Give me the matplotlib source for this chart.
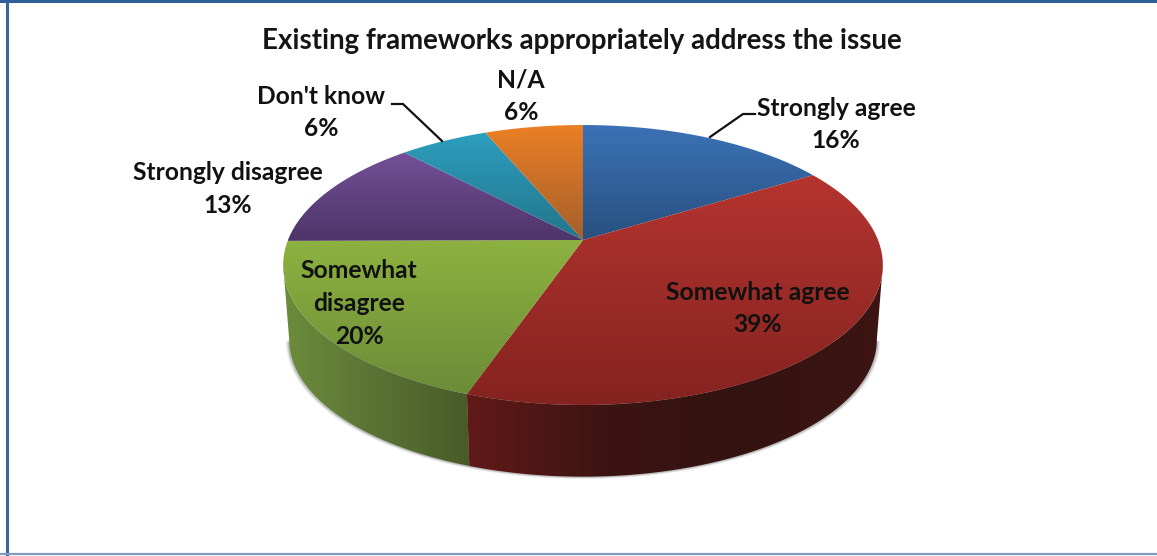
import numpy as np
from matplotlib import pyplot as plt
from matplotlib.colors import LinearSegmentedColormap, to_rgb
from matplotlib.patches import Polygon

categories = ['Strongly agree', 'Somewhat agree', 'Somewhat disagree',
              'Strongly disagree', "Don't know", 'N/A']
# slice shares as measured on the picture, the printed labels are rounded
values = [16.25, 39.05, 19.6, 13.1, 5.7, 6.3]
percent_labels = ['16%', '39%', '20%', '13%', '6%', '6%']
label_lines = [['Strongly agree'], ['Somewhat agree'], ['Somewhat', 'disagree'],
               ['Strongly disagree'], ["Don't know"], ['N/A']]
title = 'Existing frameworks appropriately address the issue'

top_colors = [('#3b72b6', '#28507f'), ('#b5342f', '#842320'), ('#8db240', '#6c8c38'),
              ('#745098', '#4e3468'), ('#2d9fbe', '#23748c'), ('#eb7f24', '#a55f2c')]
side_colors = {1: ['#601a18', '#3c1412', '#331310', '#3d1513'],
               2: ['#6c8c3c', '#5a7334', '#495b28']}

label_x = [836, 758, 359, 228, 321, 521]
label_y = [108, 292, 271, 173, 96, 80]
line_gap = 32.5
leaders = [[(710, 137), (743, 114), (755, 114)], [(392, 104), (403, 104), (442, 141)]]

W, H = 1157, 556
cx, cy = 583, 240
rx, ry, k = 295, 135.5, 0.1786
low_scale, low_cy = 0.98, 315
# where the projected circle is widest, the walls end there
tangent = np.degrees(np.arcsin(k))


def project(angles, scale=1.0, center_y=cy):
    a = np.radians(angles)
    s = 1 / (1 + k * np.sin(a))
    return cx + rx * scale * np.cos(a) * s, center_y - ry * scale * np.sin(a) * s


def draw_side(ax, start, end, stops):
    arc = np.linspace(start, end, 200)
    tx, ty = project(arc)
    bx, by = project(arc[::-1], low_scale, low_cy)
    pts = np.column_stack([np.concatenate([tx, bx]), np.concatenate([ty, by])])
    patch = Polygon(pts, closed=True, fc='none', ec='none', zorder=3)
    ax.add_patch(patch)
    cmap = LinearSegmentedColormap.from_list('side', stops)
    img = ax.imshow(np.linspace(0, 1, 256)[None, :], cmap=cmap, vmin=0, vmax=1,
                    extent=(pts[:, 0].min(), pts[:, 0].max(), pts[:, 1].max(), pts[:, 1].min()),
                    aspect='auto', zorder=3, interpolation='bilinear')
    img.set_clip_path(patch)


def draw_top(ax, start, end, colors):
    arc = np.linspace(start, end, 200)
    xs, ys = project(arc)
    pts = np.vstack([[cx, cy], np.column_stack([xs, ys])])
    patch = Polygon(pts, closed=True, fc='none', ec='none', zorder=4)
    ax.add_patch(patch)
    c0, c1 = np.array(to_rgb(colors[0])), np.array(to_rgb(colors[1]))
    t = np.linspace(0, 1, 256)[:, None, None]
    grad = c0[None, None, :] * (1 - t) + c1[None, None, :] * t
    img = ax.imshow(grad, extent=(pts[:, 0].min(), pts[:, 0].max(), pts[:, 1].max(), pts[:, 1].min()),
                    aspect='auto', zorder=4, interpolation='bilinear')
    img.set_clip_path(patch)


def chart():
    fig = plt.figure(figsize=(W / 100, H / 100), dpi=100)
    ax = fig.add_axes([0, 0, 1, 1])
    plt.rcParams['font.family'] = ['Lato', 'DejaVu Sans']

    edges = 90 - 3.6 * np.concatenate([[0], np.cumsum(values)])
    right_end, left_end = -tangent, -180 + tangent

    # soft shadow under the front of the disc
    shadow_arc = np.linspace(right_end, left_end, 300)
    sx, sy = project(shadow_arc, low_scale, low_cy)
    for off, alpha in [(3.5, 0.06), (2.5, 0.12), (1.5, 0.2)]:
        ax.add_patch(Polygon(np.column_stack([sx + off * np.cos(np.radians(shadow_arc)),
                                              sy + off * 0.7]),
                             closed=True, fc='#404040', ec='none', alpha=alpha, zorder=2))

    # green is left of the red on the front wall
    draw_side(ax, left_end, edges[2], side_colors[2])
    draw_side(ax, edges[2], right_end, side_colors[1])

    for i in range(len(values)):
        draw_top(ax, edges[i], edges[i + 1], top_colors[i])

    for pts in leaders:
        ax.plot(*zip(*pts), color='#111111', lw=1.6, zorder=5, solid_joinstyle='miter')

    ax.text(582, 40.5, title, ha='center', va='center', fontsize=19.9, fontweight='bold',
            color='#151515', zorder=6)
    for i, lines in enumerate(label_lines):
        rows = lines + [percent_labels[i]]
        for n, row in enumerate(rows):
            ax.text(label_x[i], label_y[i] + n * line_gap, row, ha='center', va='center',
                    fontsize=17.7, fontweight='bold', color='#111111', zorder=6)

    # frame of the pasted picture
    ax.plot([6.5, 6.5], [0, H], color='#3a659b', lw=2.2, zorder=7)
    ax.plot([0, W], [0.8, 0.8], color='#2f5f98', lw=2.2, zorder=7)
    ax.plot([0, W], [554, 554], color='#7f9cc0', lw=1.6, zorder=7)

    ax.set_xlim(0, W)
    ax.set_ylim(H, 0)
    ax.axis('off')
    fig.savefig('out.png', dpi=100, facecolor='white')


if __name__ == '__main__':
    chart()
